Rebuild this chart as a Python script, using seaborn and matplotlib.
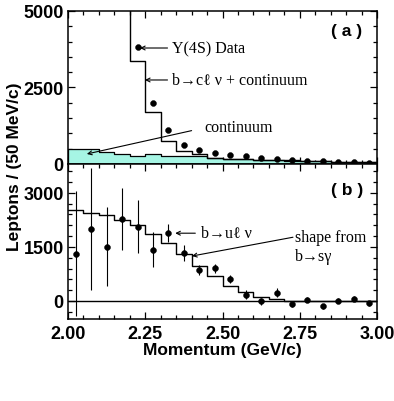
import numpy as np
import seaborn as sns
from matplotlib import pyplot as plt
from matplotlib.ticker import MultipleLocator

# momentum bins (GeV/c), 50 MeV wide
bin_edges = [2.00, 2.05, 2.10, 2.15, 2.20, 2.25, 2.30, 2.35, 2.40, 2.45, 2.50,
             2.55, 2.60, 2.65, 2.70, 2.75, 2.80, 2.85, 2.90, 2.95, 3.00]
bin_centres = [2.025, 2.075, 2.125, 2.175, 2.225, 2.275, 2.325, 2.375, 2.425, 2.475,
               2.525, 2.575, 2.625, 2.675, 2.725, 2.775, 2.825, 2.875, 2.925, 2.975]

# panel (a): b -> c l nu + continuum, continuum alone, Y(4S) data
total_a = [9000, 8200, 7000, 5600, 3376, 1700, 740, 420, 330, 190,
           175, 160, 145, 130, 115, 100, 90, 80, 70, 60]
continuum_a = [490, 490, 380, 327, 250, 327, 272, 250, 270, 180,
               165, 150, 140, 125, 110, 95, 85, 75, 65, 55]
data_a_x = [2.225, 2.275, 2.325, 2.375, 2.425, 2.475, 2.525, 2.575,
            2.625, 2.675, 2.725, 2.775, 2.825, 2.875, 2.925, 2.975]
data_a = [3820, 1990, 1110, 630, 462, 369, 304, 252, 196, 163, 140, 98, 88, 75, 65, 42]

# panel (b): shape from b -> s gamma, background-subtracted data
shape_b = [2515, 2451, 2387, 2250, 2104, 1857, 1600, 1300, 979, 704,
           429, 247, 110, 44, 0, 0, 0, 0, 0, 0]
data_b = [1308, 1994, 1509, 2277, 2058, 1427, 1880, 1327, 860, 906,
          613, 173, -9, 226, -85, 38, -151, 9, 57, -66]
err_b = [1730, 1700, 1100, 850, 730, 480, 250, 220, 130, 125,
         110, 125, 90, 125, 80, 80, 80, 70, 70, 70]

sns.set_style("ticks")
plt.rcParams["font.family"] = ["Liberation Sans", "DejaVu Sans"]
plt.rcParams["font.weight"] = "bold"
for key in ("text.color", "axes.labelcolor", "xtick.color", "ytick.color",
            "axes.edgecolor"):
    plt.rcParams[key] = "black"

SERIF = ["Liberation Serif", "DejaVu Serif"]
CYAN = "#a6f5e4"
FS = 11.5

fig = plt.figure(figsize=(3.94, 4.02), dpi=100)
ax_a = fig.add_axes([0.1726, 0.5896, 0.7843, 0.3806])
ax_b = fig.add_axes([0.1726, 0.2040, 0.7843, 0.3856], sharex=ax_a)

# ---- panel (a)
sns.histplot(x=bin_centres, weights=continuum_a, bins=bin_edges, element="step",
             fill=True, color=CYAN, alpha=1, edgecolor="black", linewidth=0.9, ax=ax_a)
sns.histplot(x=bin_centres, weights=total_a, bins=bin_edges, element="step",
             fill=False, color="black", linewidth=1.0, ax=ax_a)
sns.scatterplot(x=data_a_x, y=data_a, color="black", s=18, edgecolor="black", ax=ax_a)
ax_a.set_ylim(0, 5000)
ax_a.set_yticks([0, 2500, 5000])
ax_a.yaxis.set_minor_locator(MultipleLocator(500))

arrow = dict(arrowstyle="->", color="black", lw=0.8, shrinkA=0, shrinkB=0,
             mutation_scale=7)
ax_a.annotate("", xy=(2.233, 3790), xytext=(2.322, 3790), arrowprops=arrow)
ax_a.text(2.338, 3790, "Υ(4S) Data", family=SERIF, weight="normal", fontsize=FS,
          va="center", ha="left")
ax_a.annotate("", xy=(2.249, 2745), xytext=(2.322, 2745), arrowprops=arrow)
ax_a.text(2.336, 2745, "b→cℓ ν + continuum", family=SERIF, weight="normal",
          fontsize=FS, va="center", ha="left")
ax_a.annotate("", xy=(2.061, 327), xytext=(2.400, 1090), arrowprops=arrow)
ax_a.text(2.442, 1210, "continuum", family=SERIF, weight="normal", fontsize=FS,
          va="center", ha="left")
ax_a.text(2.903, 4350, "( a )", fontsize=12.5, weight="bold", ha="center", va="center")

# ---- panel (b)
sns.histplot(x=bin_centres, weights=shape_b, bins=bin_edges, element="step",
             fill=False, color="black", linewidth=1.0, ax=ax_b)
ax_b.errorbar(bin_centres, data_b, yerr=err_b, fmt="none", ecolor="black",
              elinewidth=0.8, capsize=0)
sns.scatterplot(x=bin_centres, y=data_b, color="black", s=18, edgecolor="black",
                zorder=3, ax=ax_b)
ax_b.axhline(0, color="black", lw=1.0)
ax_b.set_ylim(-500, 3800)
ax_b.set_yticks([0, 1500, 3000])
ax_b.yaxis.set_minor_locator(MultipleLocator(300))

ax_b.annotate("", xy=(2.347, 1880), xytext=(2.412, 1880), arrowprops=arrow)
ax_b.text(2.430, 1890, "b→uℓ ν", family=SERIF, weight="normal", fontsize=FS,
          va="center", ha="left")
ax_b.annotate("", xy=(2.401, 1246), xytext=(2.728, 1768), arrowprops=arrow)
ax_b.text(2.735, 1768, "shape from", family=SERIF, weight="normal", fontsize=FS,
          va="center", ha="left")
ax_b.text(2.735, 1250, "b→sγ", family=SERIF, weight="normal", fontsize=FS,
          va="center", ha="left")
ax_b.text(2.903, 3090, "( b )", fontsize=12.5, weight="bold", ha="center", va="center")

# ---- shared axis styling
for ax in (ax_a, ax_b):
    ax.set_xlim(2.0, 3.0)
    ax.set_xticks([2.00, 2.25, 2.50, 2.75, 3.00])
    ax.xaxis.set_minor_locator(MultipleLocator(0.05))
    ax.tick_params(which="both", direction="in", top=True, right=True,
                   width=0.9, labelsize=13)
    ax.tick_params(which="major", length=5)
    ax.tick_params(which="minor", length=3)
    ax.tick_params(axis="y", pad=3)
    ax.set_ylabel("")
    ax.set_xlabel("")
    for s in ax.spines.values():
        s.set_linewidth(1.1)
        s.set_visible(True)

ax_a.tick_params(labelbottom=False)
ax_b.set_xticklabels(["2.00", "2.25", "2.50", "2.75", "3.00"])
ax_b.tick_params(axis="x", pad=4)
ax_b.set_xlabel("Momentum (GeV/c)", fontsize=12.5, weight="bold", labelpad=0)
fig.text(0.038, 0.585, "Leptons / (50 MeV/c)", rotation=90, fontsize=12.5,
         weight="bold", ha="center", va="center")

plt.savefig("out.png", dpi=100)
